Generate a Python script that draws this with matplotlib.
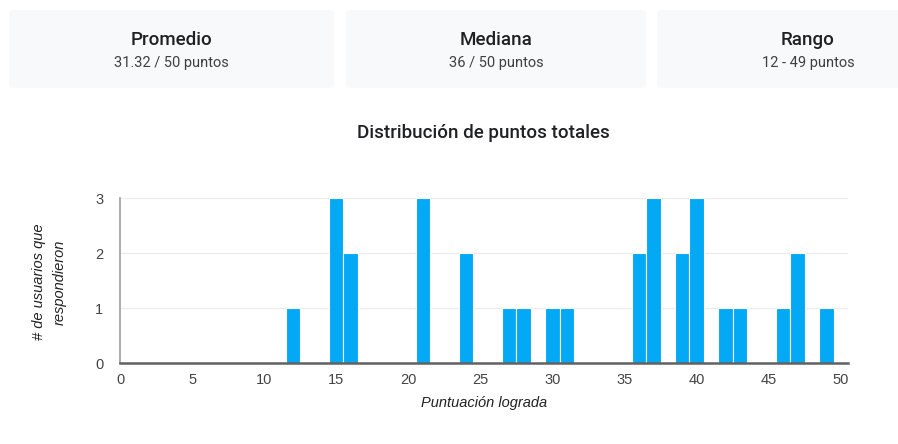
#!/usr/bin/env python3
"""
Histogram of total points with summary cards
"""

import matplotlib.pyplot as plt
from matplotlib.patches import FancyBboxPatch

plt.rcParams['font.family'] = ['Roboto', 'DejaVu Sans']

scores = [12, 15, 16, 21, 24, 27, 28, 30, 31, 36, 37, 39, 40, 42, 43, 46, 47, 49]
counts = [1, 3, 2, 3, 2, 1, 1, 1, 1, 2, 3, 2, 3, 1, 1, 1, 2, 1]

card_titles = ["Promedio", "Mediana", "Rango"]
card_values = ["31.32 / 50 puntos", "36 / 50 puntos", "12 - 49 puntos"]

x_ticks = [0, 5, 10, 15, 20, 25, 30, 35, 40, 45, 50]
y_ticks = [0, 1, 2, 3]

W, H = 898, 444
AXIS_FONT = ['Liberation Sans', 'DejaVu Sans']

fig = plt.figure(figsize=(W / 100, H / 100), dpi=100)

# summary cards (pixel boxes: left, right, text centre)
cards = [(9, 334, 171), (346, 646, 496), (657, 905, 808)]
for (x0, x1, xc), title, value in zip(cards, card_titles, card_values):
    box = FancyBboxPatch((x0 / W, 1 - 88 / H), (x1 - x0) / W, 78 / H,
                         boxstyle="round,pad=0,rounding_size=0.006",
                         transform=fig.transFigure, facecolor='#f8f9fa',
                         edgecolor='none', zorder=0)
    fig.patches.append(box)
    fig.text(xc / W, 1 - 40 / H, title, ha='center', va='center',
             fontsize=13.5, color='#202124', fontweight='medium')
    fig.text(xc / W, 1 - 63 / H, value, ha='center', va='center',
             fontsize=10.5, color='#3c4043')

fig.text(483 / W, 1 - 133 / H, "Distribución de puntos totales",
         ha='center', va='center', fontsize=13.5, color='#202124',
         fontweight='medium')

ax = fig.add_axes([120 / W, 1 - 363 / H, 728 / W, 165 / H])
ax.bar(scores, counts, width=1, color='#03a9f4', edgecolor='white',
       linewidth=0.8, zorder=3)

ax.set_xlim(0, 50.5)
ax.set_ylim(0, 3)
ax.set_xticks(x_ticks)
ax.set_yticks(y_ticks)
ax.tick_params(length=0, labelsize=10.5, colors='#444444')
ax.tick_params(axis='x', pad=7)
ax.tick_params(axis='y', pad=12)
for lbl in ax.get_xticklabels() + ax.get_yticklabels():
    lbl.set_family(AXIS_FONT)
ax.grid(axis='y', color='#ececec', linewidth=1, zorder=0)

for side in ('top', 'right'):
    ax.spines[side].set_visible(False)
ax.spines['left'].set_color('#9e9e9e')
ax.spines['left'].set_linewidth(1.2)
ax.spines['bottom'].set_color('#616161')
ax.spines['bottom'].set_linewidth(1.8)
ax.spines['bottom'].set_zorder(4)

ax.set_xlabel("Puntuación lograda", fontsize=10.5, style='italic',
              color='#222222', labelpad=7, family=AXIS_FONT)
fig.text(49 / W, 1 - 282 / H, "# de usuarios que\nrespondieron",
         rotation=90, ha='center', va='center', fontsize=10.5,
         style='italic', color='#222222', linespacing=1.6,
         family=AXIS_FONT)

fig.savefig("out.png", dpi=100)
